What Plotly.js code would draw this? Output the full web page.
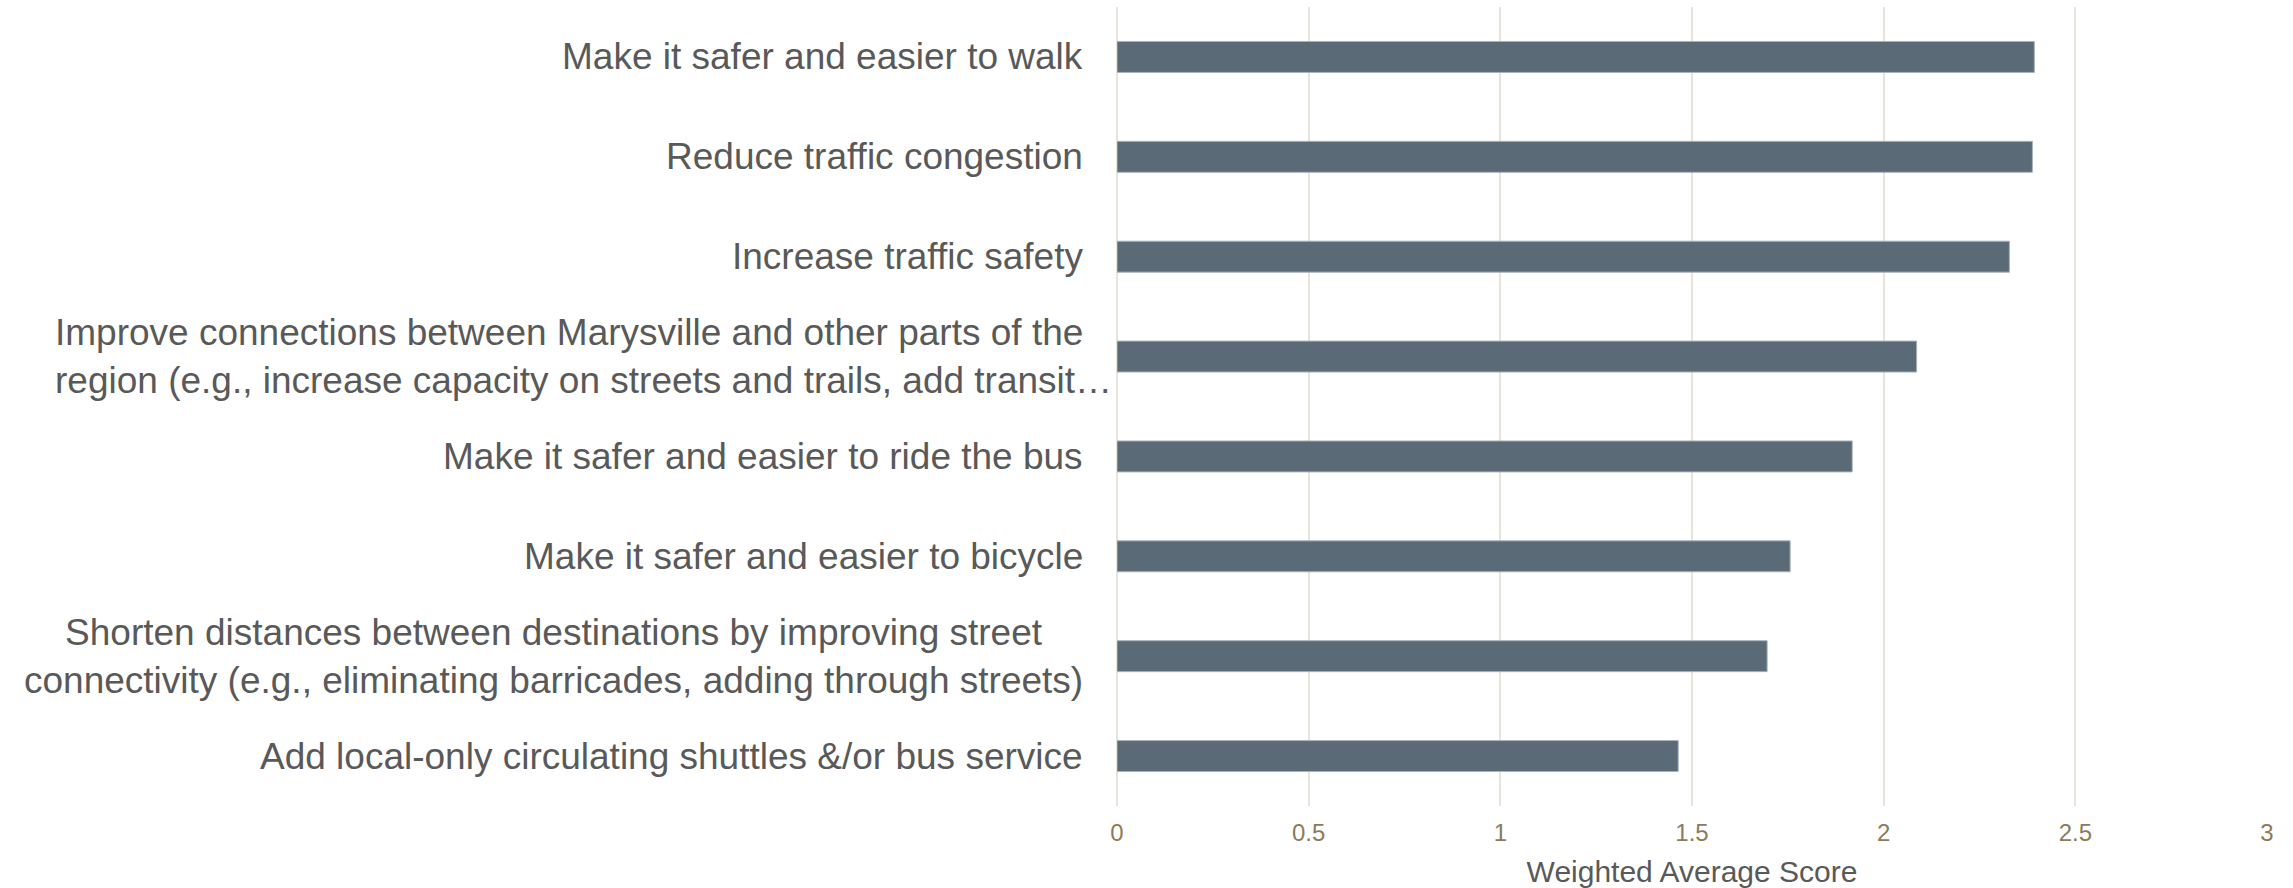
<!DOCTYPE html>
<html>
<head>
<meta charset="utf-8">
<script src="https://cdn.plot.ly/plotly-3.0.1.min.js"></script>
<style>html,body{margin:0;padding:0;background:#fff;}#chart{width:2293px;height:888px;}</style>
</head>
<body>
<div id="chart"></div>
<script>
// Categories, top to bottom as shown
var categories = [
  "Make it safer and easier to walk",
  "Reduce traffic congestion",
  "Increase traffic safety",
  "Improve connections between Marysville and other parts of the<br>region (e.g., increase capacity on streets and trails, add transit…",
  "Make it safer and easier to ride the bus",
  "Make it safer and easier to bicycle",
  "Shorten distances between destinations by improving street<br>connectivity (e.g., eliminating barricades, adding through streets)",
  "Add local-only circulating shuttles &/or bus service"
];
var scores = [2.393, 2.388, 2.328, 2.086, 1.918, 1.756, 1.696, 1.464];
var xTickValues = [0, 0.5, 1, 1.5, 2, 2.5, 3];
var xTickLabels = ["0", "0.5", "1", "1.5", "2", "2.5", "3"];
var xAxisTitle = "Weighted Average Score";

var FONT = '"Liberation Sans", Arial, sans-serif';
var catIds = categories.map(function (c, i) { return "c" + i; });

var trace = {
  type: "bar",
  orientation: "h",
  y: catIds,
  x: scores,
  width: 0.31,
  marker: { color: "#5a6b77", line: { color: "#a7b2ba", width: 1 } },
  hoverinfo: "x"
};

var annotations = categories.map(function (c, i) {
  var truncated = c.indexOf("…") >= 0;
  return {
    xref: "x", yref: "y",
    x: 0, y: catIds[i],
    xanchor: "right", yanchor: "middle",
    xshift: truncated ? -3 : -32,
    align: truncated ? "left" : "center",
    text: c,
    showarrow: false,
    font: { family: FONT, size: 37, color: "#595959" }
  };
});

var layout = {
  width: 2293, height: 888,
  margin: { l: 1117, r: 26, t: 7, b: 82, pad: 0 },
  paper_bgcolor: "#ffffff", plot_bgcolor: "#ffffff",
  showlegend: false,
  font: { family: FONT, color: "#595959" },
  xaxis: {
    range: [0, 3],
    tickvals: xTickValues, ticktext: xTickLabels,
    showgrid: true, gridcolor: "#e8e4da", gridwidth: 2,
    zeroline: true, zerolinecolor: "#e8e4da", zerolinewidth: 2,
    showline: false, ticks: "",
    tickfont: { family: FONT, size: 24, color: "#8c7b5b" },
    ticklabelstandoff: 10,
    title: { text: xAxisTitle, font: { family: FONT, size: 30, color: "#595959" }, standoff: 15 },
    fixedrange: true
  },
  yaxis: {
    type: "category",
    categoryorder: "array", categoryarray: catIds,
    autorange: "reversed",
    showticklabels: false, showgrid: false, zeroline: false, showline: false, ticks: "",
    fixedrange: true
  },
  annotations: annotations
};

Plotly.newPlot("chart", [trace], layout, { displayModeBar: false, staticPlot: true });
</script>
</body>
</html>
